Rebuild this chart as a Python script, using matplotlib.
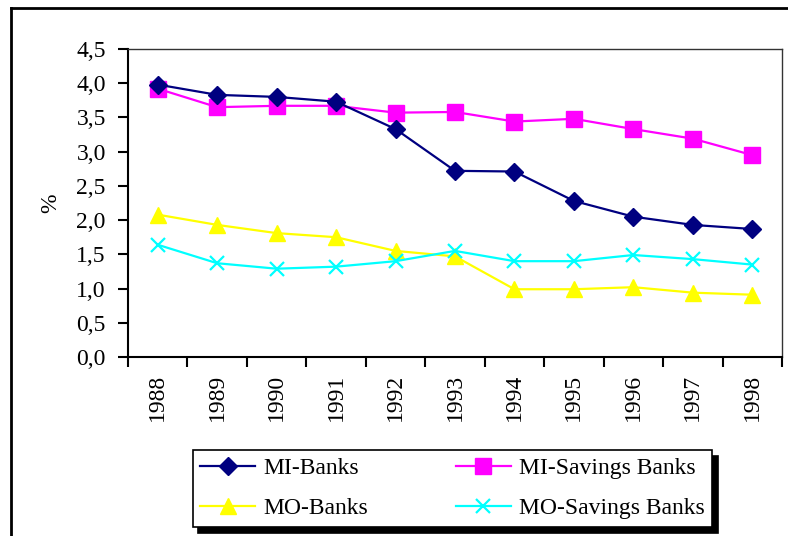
import matplotlib
matplotlib.use("Agg")
import matplotlib.pyplot as plt
from matplotlib.lines import Line2D
from matplotlib.ticker import FuncFormatter

years = ["1988", "1989", "1990", "1991", "1992", "1993", "1994", "1995", "1996", "1997", "1998"]
mi_banks = [3.98, 3.83, 3.80, 3.73, 3.33, 2.72, 2.71, 2.28, 2.05, 1.93, 1.87]
mi_savings = [3.92, 3.65, 3.67, 3.67, 3.57, 3.58, 3.44, 3.48, 3.33, 3.19, 2.95]
mo_banks = [2.08, 1.93, 1.81, 1.75, 1.55, 1.47, 0.99, 0.99, 1.02, 0.94, 0.91]
mo_savings = [1.64, 1.37, 1.29, 1.32, 1.40, 1.55, 1.40, 1.40, 1.49, 1.43, 1.35]
y_ticks = [0.0, 0.5, 1.0, 1.5, 2.0, 2.5, 3.0, 3.5, 4.0, 4.5]

plt.rcParams['font.family'] = ['Liberation Serif', 'DejaVu Serif']

fig = plt.figure(figsize=(7.88, 5.36), dpi=100)
ax = fig.add_axes([128/788, 1-357/536, 654/788, 308/536])

x = list(range(len(years)))
l1, = ax.plot(x, mi_banks, color='#000080', lw=1.6, marker='D', ms=9.5, label='MI-Banks', zorder=4)
l2, = ax.plot(x, mi_savings, color='#FF00FF', lw=1.6, marker='s', ms=11, label='MI-Savings Banks', zorder=3)
l3, = ax.plot(x, mo_banks, color='#FFFF00', lw=1.6, marker='^', ms=11.5, label='MO-Banks', zorder=3)
l4, = ax.plot(x, mo_savings, color='#00FFFF', lw=1.6, marker='x', ms=10.5, mew=1.6, label='MO-Savings Banks', zorder=3)

ax.set_xlim(-0.5, len(years) - 0.5)
ax.set_ylim(0, 4.5)
ax.set_yticks(y_ticks)
ax.yaxis.set_major_formatter(FuncFormatter(lambda v, p: f"{v:.1f}".replace('.', ',')))
ax.tick_params(axis='y', direction='out', length=7, width=1.5, labelsize=17, pad=9)

ax.set_xticks([i - 0.5 for i in range(len(years) + 1)])
ax.set_xticklabels([])
ax.set_xticks(x, minor=True)
ax.set_xticklabels(years, minor=True, rotation=90, fontsize=17)
ax.tick_params(axis='x', which='major', direction='out', length=7, width=1.5)
ax.tick_params(axis='x', which='minor', length=0, pad=12)

ax.set_ylabel('%', fontsize=17, labelpad=11)

for s in ['left', 'bottom']:
    ax.spines[s].set_linewidth(1.5)
    ax.spines[s].set_color('black')
for s in ['top', 'right']:
    ax.spines[s].set_linewidth(1.0)
    ax.spines[s].set_color('#333333')

leg = fig.legend([l1, l3, l2, l4], ['MI-Banks', 'MO-Banks', 'MI-Savings Banks', 'MO-Savings Banks'],
                 loc='center', bbox_to_anchor=(452.5/788, 1-488.5/536), ncol=2,
                 fontsize=17, frameon=True, fancybox=False, edgecolor='black',
                 handlelength=2.3, columnspacing=3.75, labelspacing=0.78,
                 borderpad=0.33, handletextpad=0.35,
                 shadow={'ox': 4, 'oy': -4, 'facecolor': 'black', 'edgecolor': 'black', 'alpha': 1})
leg.get_frame().set_linewidth(1.2)

# outer chart border
fig.add_artist(Line2D([11/788, 11/788], [-0.01, 1-8/536], color='black', lw=2, transform=fig.transFigure))
fig.add_artist(Line2D([11/788, 1.01], [1-8/536, 1-8/536], color='black', lw=2, transform=fig.transFigure))

fig.savefig('out.png', dpi=100)
